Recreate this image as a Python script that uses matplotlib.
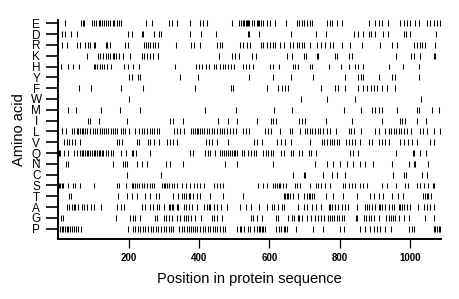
import matplotlib
matplotlib.use("Agg")
import matplotlib.pyplot as plt

plt.rcParams['font.family'] = ['Liberation Sans', 'DejaVu Sans']

# amino acids, top row first
amino_acids = ['E', 'D', 'R', 'K', 'H', 'Y', 'F', 'W', 'M', 'I',
               'L', 'V', 'Q', 'N', 'C', 'S', 'T', 'A', 'G', 'P']

seq_len = 1088
x_ticks = [200, 400, 600, 800, 1000]

# positions of each residue in the sequence
pos_E = [19, 64, 69, 74, 95, 101, 107, 114, 118, 124, 130, 136, 141, 147, 154, 159, 166, 173, 178,
         248, 265, 313, 322, 338, 374, 403, 412, 422, 493, 512, 519, 524, 528, 532, 536, 539, 543,
         550, 556, 564, 568, 571, 575, 583, 592, 602, 616, 647, 678, 684, 692, 699, 706, 716, 720,
         763, 771, 779, 792, 806, 882, 901, 910, 920, 937, 972, 981, 991, 1000, 1014, 1024,
         1048, 1055, 1067, 1076, 1084]
pos_D = [9, 19, 35, 54, 199, 210, 237, 240, 273, 287, 291, 373, 406, 448, 538, 543, 569, 661,
         733, 761, 839, 853, 867, 882, 888, 901, 924, 936, 981, 989, 1000, 1074]
pos_R = [11, 24, 54, 62, 76, 85, 90, 100, 104, 136, 139, 147, 190, 197, 242, 248, 256, 261, 268,
         275, 284, 335, 376, 386, 403, 452, 458, 465, 515, 526, 536, 545, 575, 583, 592, 602, 610,
         616, 630, 642, 657, 666, 678, 685, 692, 699, 716, 735, 746, 758, 771, 782, 806, 830, 863,
         915, 948, 962, 1010, 1019, 1029, 1033, 1043, 1071]
pos_K = [82, 112, 119, 128, 136, 142, 147, 155, 158, 164, 173, 185, 204, 237, 244, 251, 259, 268,
         282, 284, 457, 493, 502, 512, 550, 561, 651, 664, 697, 703, 735, 739, 787, 793, 825, 834,
         960, 1002, 1010, 1029, 1067, 1071]
pos_H = [7, 26, 41, 58, 100, 104, 111, 117, 123, 130, 137, 149, 187, 199, 211, 228, 332, 392, 401,
         408, 420, 429, 441, 448, 458, 467, 474, 483, 491, 498, 524, 534, 543, 553, 602, 611, 626,
         666, 673, 680, 716, 720, 768, 803, 825, 842, 853, 867, 939, 979, 1024]
pos_Y = [202, 208, 225, 232, 346, 398, 543, 611, 661, 725, 815, 853, 861, 867, 910, 948, 957, 1026]
pos_F = [59, 92, 178, 240, 389, 490, 496, 592, 623, 635, 645, 654, 747, 787, 796, 815, 853, 867,
         877, 888, 896, 905, 920, 934, 957]
pos_W = [202, 689, 763, 842, 1031]
pos_M = [27, 50, 121, 175, 232, 417, 505, 613, 664, 811, 861, 891, 899, 910, 920, 962, 1019, 1024,
         1062, 1081]
pos_I = [83, 90, 115, 194, 318, 325, 354, 455, 483, 509, 564, 604, 610, 619, 685, 692, 702, 761,
         834, 920, 970, 976, 986, 1019, 1046]
pos_L = [11, 21, 38, 45, 52, 57, 62, 66, 71, 76, 82, 90, 98, 104, 111, 117, 123, 130, 136, 142,
         149, 155, 161, 166, 177, 183, 190, 202, 218, 228, 237, 244, 251, 259, 265, 272, 280, 285,
         329, 337, 346, 356, 376, 382, 389, 393, 398, 403, 408, 414, 422, 429, 436, 443, 450, 458,
         465, 471, 479, 488, 496, 505, 526, 534, 543, 588, 595, 604, 629, 657, 664, 687, 702, 708,
         716, 722, 730, 737, 744, 752, 763, 771, 790, 825, 832, 841, 861, 899, 910, 929, 939, 945,
         953, 960, 967, 974, 981, 991, 1002, 1027, 1036, 1048, 1067, 1086]
pos_V = [17, 24, 30, 38, 47, 62, 166, 173, 180, 223, 230, 256, 261, 273, 287, 308, 318, 325, 337,
         420, 427, 436, 450, 483, 556, 564, 578, 621, 632, 645, 661, 714, 749, 756, 763, 771, 777,
         784, 792, 799, 818, 825, 834, 844, 856, 882, 891, 910, 920, 929, 939, 970, 983, 995, 1005,
         1019, 1057, 1067]
pos_Q = [2, 5, 17, 28, 45, 52, 60, 66, 71, 76, 81, 85, 90, 95, 100, 104, 109, 114, 119, 123, 128,
         136, 142, 149, 155, 177, 192, 209, 213, 221, 259, 374, 384, 417, 424, 431, 446, 458, 465,
         471, 477, 483, 488, 493, 498, 502, 507, 521, 528, 540, 547, 555, 562, 583, 590, 597, 604,
         611, 632, 642, 661, 668, 683, 692, 711, 718, 733, 828, 837, 853, 960, 1008, 1012, 1029,
         1046]
pos_N = [22, 28, 156, 183, 190, 194, 223, 237, 251, 306, 316, 354, 474, 507, 610, 728, 763, 782,
         801, 820, 837, 856, 872, 894, 948, 998, 1010, 1014, 1052]
pos_C = [194, 292, 668, 697, 701, 752, 777, 792, 815, 952, 981, 989, 1033, 1049]
pos_S = [2, 5, 9, 14, 28, 41, 47, 60, 101, 166, 171, 192, 209, 213, 218, 223, 228, 237, 244, 251,
         259, 265, 272, 294, 299, 303, 308, 313, 322, 329, 337, 351, 363, 374, 386, 393, 403, 414,
         443, 450, 458, 469, 566, 583, 594, 611, 616, 621, 626, 630, 638, 647, 673, 678, 687, 716,
         733, 739, 746, 758, 771, 809, 815, 825, 834, 844, 858, 867, 877, 920, 934, 960, 986, 993,
         1019, 1029, 1038, 1052, 1065, 1068]
pos_T = [31, 35, 168, 194, 209, 223, 245, 259, 278, 287, 327, 341, 351, 357, 363, 370, 374, 384,
         393, 403, 431, 467, 526, 640, 645, 649, 654, 659, 666, 681, 699, 706, 711, 716, 720, 727,
         761, 782, 809, 848, 886, 896, 910, 922, 948, 964, 979, 1036, 1043, 1048, 1052, 1059]
pos_A = [24, 31, 38, 43, 47, 57, 66, 73, 82, 92, 101, 120, 166, 177, 187, 237, 246, 261, 270, 280,
         287, 299, 313, 318, 322, 327, 337, 341, 356, 363, 370, 379, 395, 414, 422, 427, 431, 441,
         450, 462, 479, 517, 534, 547, 569, 592, 607, 613, 624, 635, 640, 681, 697, 706, 720, 733,
         747, 768, 773, 777, 787, 796, 806, 815, 822, 850, 872, 877, 882, 891, 901, 910, 915, 920,
         929, 939, 948, 955, 967, 972, 976, 981, 991, 1000, 1021, 1040, 1049, 1057, 1068]
pos_G = [7, 12, 163, 204, 211, 218, 232, 275, 280, 299, 306, 313, 322, 338, 346, 358, 363, 367,
         376, 389, 405, 436, 443, 450, 465, 547, 553, 564, 578, 619, 623, 654, 664, 670, 680, 685,
         692, 706, 718, 730, 737, 746, 754, 765, 771, 777, 784, 792, 799, 806, 812, 847, 850, 869,
         875, 882, 888, 896, 910, 932, 939, 945, 951, 957, 967, 981, 998, 1043, 1067]
pos_P = [5, 9, 14, 19, 24, 28, 33, 38, 45, 50, 57, 64, 199, 211, 218, 225, 232, 240, 246, 256,
         263, 270, 278, 284, 291, 299, 306, 313, 319, 325, 344, 351, 357, 365, 370, 376, 384, 389,
         395, 403, 410, 417, 424, 431, 439, 446, 452, 460, 467, 474, 509, 515, 519, 528, 538, 545,
         556, 564, 569, 573, 578, 583, 588, 619, 626, 632, 640, 645, 651, 676, 725, 752, 801, 811,
         856, 872, 886, 896, 905, 915, 929, 945, 998, 1005, 1012, 1067, 1071, 1076, 1081, 1085]

positions = [pos_E, pos_D, pos_R, pos_K, pos_H, pos_Y, pos_F, pos_W, pos_M, pos_I,
             pos_L, pos_V, pos_Q, pos_N, pos_C, pos_S, pos_T, pos_A, pos_G, pos_P]

fig = plt.figure(figsize=(4.6, 2.99), dpi=100)
ax = fig.add_axes([0.127, 0.2017, 0.832, 0.731])

n = len(amino_acids)
for i, (aa, pos) in enumerate(zip(amino_acids, positions)):
    row = n - 1 - i
    ax.vlines(pos, row - 0.27, row + 0.27, color='black', linewidth=0.75)

ax.set_xlim(0, seq_len)
ax.set_ylim(-0.93, n - 0.7)

ax.set_yticks(range(n))
ax.set_yticklabels(amino_acids[::-1], fontsize=8.5)
for lab in ax.get_yticklabels():
    lab.set_ha('center')
ax.tick_params(axis='y', direction='out', length=8.5, width=1.2, pad=7.5)

ax.set_xticks(x_ticks)
ax.set_xticklabels([str(t) for t in x_ticks], fontsize=7, fontweight='bold')
ax.tick_params(axis='x', direction='out', length=6.5, width=0.9, pad=3.5)

ax.spines['top'].set_visible(False)
ax.spines['right'].set_visible(False)
ax.spines['left'].set_linewidth(1.4)
ax.spines['bottom'].set_linewidth(1.4)

ax.set_xlabel('Position in protein sequence', fontsize=10.5, labelpad=7)
ax.set_ylabel('Amino acid', fontsize=10.5, labelpad=3)

fig.savefig('out.png', dpi=100)
